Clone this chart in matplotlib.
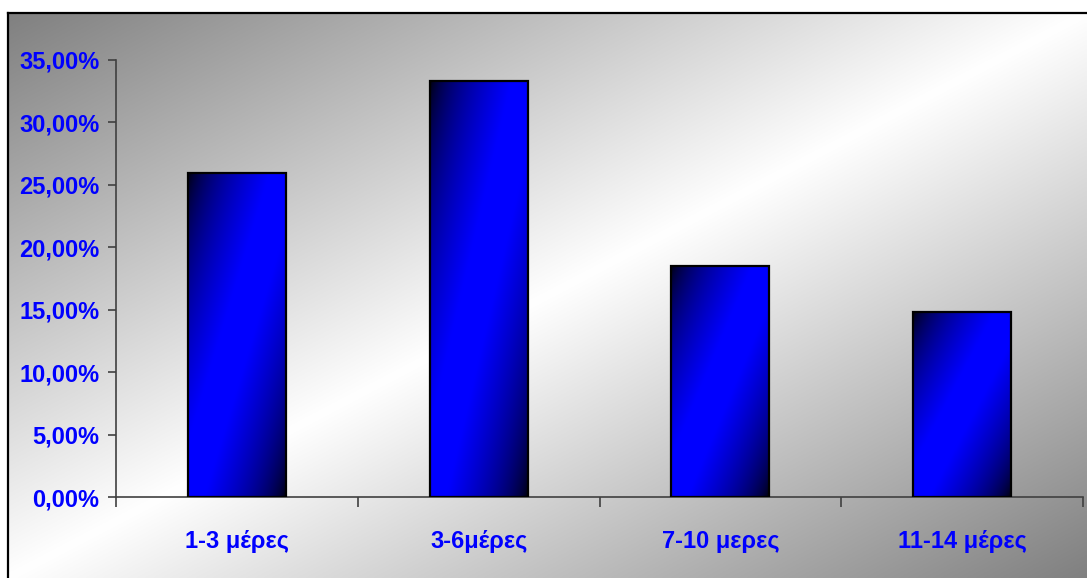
import numpy as np
import matplotlib
matplotlib.use("Agg")
import matplotlib.pyplot as plt
from matplotlib.patches import Rectangle

categories = ["1-3 μέρες", "3-6μέρες", "7-10 μερες", "11-14 μέρες"]
values = [25.93, 33.33, 18.52, 14.81]
yticks = [0, 5, 10, 15, 20, 25, 30, 35]
ytick_labels = ["0,00%", "5,00%", "10,00%", "15,00%", "20,00%", "25,00%", "30,00%", "35,00%"]

plt.rcParams['font.family'] = ['Liberation Sans', 'DejaVu Sans']
plt.rcParams['font.weight'] = 'bold'

W, H = 1087, 578
fig = plt.figure(figsize=(W / 100, H / 100), dpi=100)

# background chart area with diagonal gradient
bx0, by_top = 8, 13
bg = fig.add_axes([bx0 / W, 0, 1 - bx0 / W, (H - by_top) / H], zorder=0)
n = 400
u = np.linspace(0, 1, n)[None, :]
v = np.linspace(0, 1, n)[:, None]
t = (u + v) / 2
lev = 1 - np.abs(2 * t - 1)
gray = (128 + 127 * lev) / 255
img = np.dstack([gray, gray, gray])
bg.imshow(img, extent=[0, 1, 0, 1], aspect='auto', origin='upper')
bg.set_xlim(0, 1)
bg.set_ylim(0, 1)
bg.set_xticks([])
bg.set_yticks([])
for s in ['right', 'bottom']:
    bg.spines[s].set_visible(False)
for s in ['top', 'left']:
    bg.spines[s].set_linewidth(1.6)
    bg.spines[s].set_color('black')

left, right = 116 / W, 1083 / W
bottom, top = (H - 497) / H, (H - 60) / H
ax = fig.add_axes([left, bottom, right - left, top - bottom], zorder=1)
ax.patch.set_visible(False)

x = np.arange(len(categories))
bw = 0.405
# bar gradient
nb = 300
bu = np.linspace(0, 1, nb)[None, :]
bv = np.linspace(0, 1, nb)[:, None]
bt = (bu + bv) / 2
blev = np.clip((1 - np.abs(2 * bt - 1)) * 1.2, 0, 1) ** 0.6
bimg = np.dstack([np.zeros_like(blev), np.zeros_like(blev), blev])
for xi, val in zip(x, values):
    ax.imshow(bimg, extent=[xi - bw / 2, xi + bw / 2, 0, val], aspect='auto',
              origin='upper', zorder=2, interpolation='bilinear')
    ax.add_patch(Rectangle((xi - bw / 2, 0), bw, val, facecolor='none',
                           edgecolor='black', linewidth=1.6, zorder=3))

ax.set_xlim(-0.5, len(categories) - 0.5)
ax.set_ylim(0, 35)
ax.set_yticks(yticks)
ax.set_yticklabels(ytick_labels)
ax.set_xticks(x)
ax.set_xticklabels(categories)
ax.set_xticks(np.arange(-0.5, len(categories), 1), minor=True)
ax.tick_params(axis='x', which='major', length=0, pad=24, labelsize=17, labelcolor='#0000FF')
ax.tick_params(axis='x', which='minor', length=7, width=1.2, color='#404040', direction='out')
ax.tick_params(axis='y', length=6, width=1.2, color='#404040', pad=6, labelsize=17, labelcolor='#0000FF')
for lab in ax.get_xticklabels() + ax.get_yticklabels():
    lab.set_fontweight('bold')
ax.spines['top'].set_visible(False)
ax.spines['right'].set_visible(False)
ax.spines['left'].set_color('#404040')
ax.spines['bottom'].set_color('#404040')
ax.spines['left'].set_linewidth(1.2)
ax.spines['bottom'].set_linewidth(1.2)

fig.savefig("out.png", dpi=100)
